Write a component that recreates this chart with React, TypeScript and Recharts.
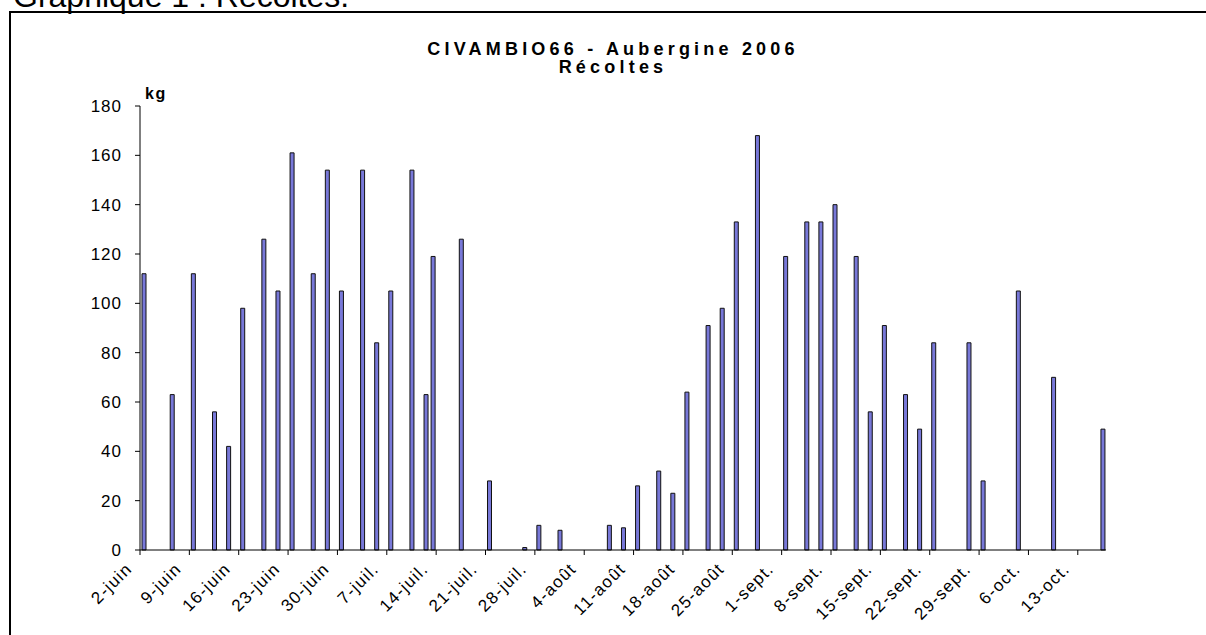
import React from "react"
import { BarChart, Bar, XAxis, YAxis } from "recharts"

// days counted from 2 June 2006
const dayOffsets = [
  0, 4, 7, 10, 12, 14, 17, 19, 21, 24, 26, 28, 31, 33, 35, 38, 40, 41, 45, 49,
  54, 56, 59, 66, 68, 70, 73, 75, 77, 80, 82, 84, 87, 91, 94, 96, 98, 101, 103, 105,
  108, 110, 112, 117, 119, 124, 129, 136,
]
const harvestKg = [
  112, 63, 112, 56, 42, 98, 126, 105, 161, 112, 154, 105, 154, 84, 105, 154, 63, 119, 126, 28,
  1, 10, 8, 10, 9, 26, 32, 23, 64, 91, 98, 133, 168, 119, 133, 133, 140, 119, 56, 91,
  63, 49, 84, 84, 28, 105, 70, 49,
]
const tickLabels = [
  "2-juin", "9-juin", "16-juin", "23-juin", "30-juin", "7-juil.", "14-juil.", "21-juil.",
  "28-juil.", "4-août", "11-août", "18-août", "25-août", "1-sept.", "8-sept.", "15-sept.",
  "22-sept.", "29-sept.", "6-oct.", "13-oct.",
]
const yTicks = [0, 20, 40, 60, 80, 100, 120, 140, 160, 180]
const totalDays = 137

const data = dayOffsets.map((d, i) => ({ day: d + 0.5, kg: harvestKg[i] }))
const xTicks = tickLabels.map((_, i) => i * 7)

const font = "'Liberation Sans', Arial, sans-serif"

function DateTick(props: any) {
  const { x, y, payload } = props
  const label = tickLabels[payload.value / 7]
  return (
    <g transform={`translate(${x - 7},${y + 15})`}>
      <text
        textAnchor="end"
        transform="rotate(-45)"
        fontSize={17}
        letterSpacing={1.3}
        fill="#000"
        fontFamily={font}
      >
        {label}
      </text>
    </g>
  )
}

export default function App() {
  return (
    <div
      style={{
        position: "fixed",
        left: 0,
        top: 0,
        width: 1206,
        height: 635,
        overflow: "hidden",
        background: "#fff",
        fontFamily: font,
      }}
    >
      <div
        style={{
          position: "absolute",
          left: 13,
          top: -22,
          fontSize: 32,
          whiteSpace: "nowrap",
          lineHeight: "normal",
        }}
      >
        Graphique 1 : Récoltes.
      </div>
      <div
        style={{
          position: "absolute",
          left: 9,
          top: 11,
          width: 1400,
          height: 800,
          border: "2px solid #000",
        }}
      />
      <div style={{ position: "absolute", left: 0, top: 0 }}>
        <BarChart
          width={1206}
          height={635}
          data={data}
          margin={{ top: 106, right: 100, bottom: 55, left: 0 }}
        >
          <text
            x={613}
            y={55}
            textAnchor="middle"
            fontSize={18}
            fontWeight="bold"
            letterSpacing={4.2}
            fontFamily={font}
          >
            CIVAMBIO66 - Aubergine 2006
          </text>
          <text
            x={613}
            y={73}
            textAnchor="middle"
            fontSize={18}
            fontWeight="bold"
            letterSpacing={4.2}
            fontFamily={font}
          >
            Récoltes
          </text>
          <text x={145} y={99} fontSize={16} fontWeight="bold" letterSpacing={1.5} fontFamily={font}>
            kg
          </text>
          <XAxis
            dataKey="day"
            type="number"
            domain={[0, totalDays]}
            ticks={xTicks}
            interval={0}
            height={30}
            tick={<DateTick />}
            tickSize={5}
            tickMargin={0}
            axisLine={{ stroke: "#000", strokeWidth: 1 }}
            tickLine={{ stroke: "#000" }}
            allowDecimals={false}
          />
          <YAxis
            domain={[0, 180]}
            ticks={yTicks}
            interval={0}
            width={140}
            tickSize={5}
            tickMargin={13}
            axisLine={{ stroke: "#000" }}
            tickLine={{ stroke: "#000" }}
            tick={{ fill: "#000", fontSize: 17, letterSpacing: 1, fontFamily: font }}
          />
          <Bar
            dataKey="kg"
            barSize={4}
            fill="#7878d8"
            stroke="#111"
            strokeWidth={1}
            isAnimationActive={false}
          />
        </BarChart>
      </div>
    </div>
  )
}
